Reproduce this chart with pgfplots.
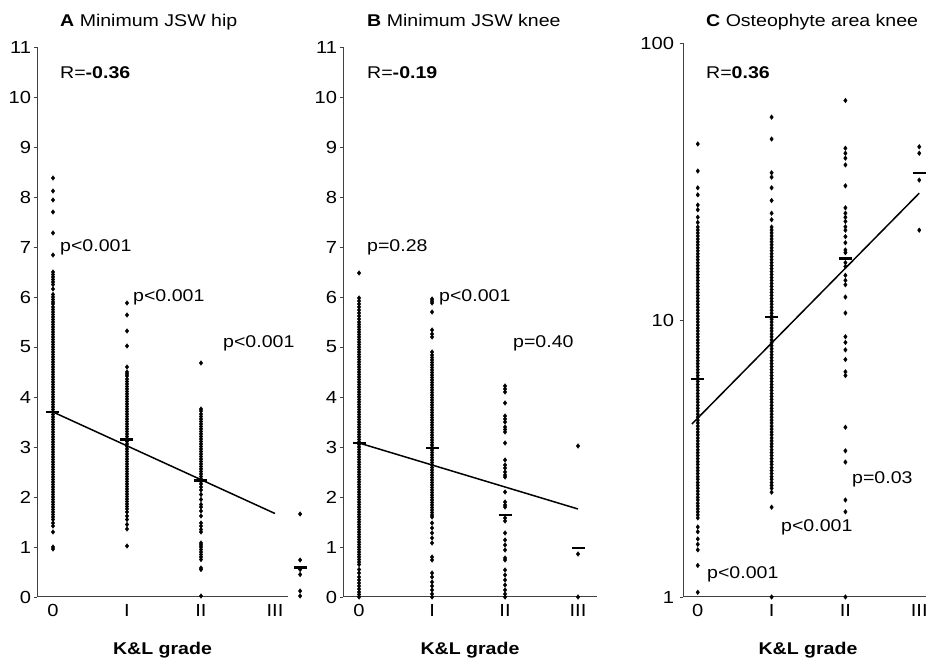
\documentclass[border=0pt]{standalone}
\usepackage{fontspec}
\setmainfont{Liberation Sans}[FakeStretch=1.15]
\usepackage{pgfplots}
\pgfplotsset{compat=1.18}
\usepackage{pgfplotstable}

% ---------- Minimum JSW hip (mm) by K&L grade ----------
\pgfplotstableread[row sep=\\]{
g v\\
0 8.38\\ 0 8.12\\ 0 7.94\\ 0 7.70\\ 0 7.28\\ 0 6.84\\ 0 6.50\\ 0 6.45\\ 0 6.40\\ 0 6.35\\ 0 6.30\\ 0 6.25\\ 0 6.16\\
0 6.05\\ 0 6.00\\ 0 5.95\\ 0 5.90\\ 0 5.86\\ 0 5.80\\ 0 5.75\\ 0 5.70\\ 0 5.65\\ 0 5.60\\ 0 5.55\\ 0 5.50\\ 0 5.45\\ 0 5.40\\
0 5.35\\ 0 5.30\\ 0 5.25\\ 0 5.20\\ 0 5.15\\ 0 5.10\\ 0 5.05\\ 0 5.00\\ 0 4.95\\ 0 4.90\\ 0 4.85\\ 0 4.80\\ 0 4.75\\ 0 4.70\\
0 4.65\\ 0 4.60\\ 0 4.55\\ 0 4.50\\ 0 4.45\\ 0 4.40\\ 0 4.35\\ 0 4.30\\ 0 4.25\\ 0 4.20\\ 0 4.15\\ 0 4.10\\ 0 4.05\\ 0 4.00\\
0 3.95\\ 0 3.90\\ 0 3.85\\ 0 3.80\\ 0 3.75\\ 0 3.70\\ 0 3.65\\ 0 3.60\\ 0 3.55\\ 0 3.50\\ 0 3.45\\ 0 3.40\\ 0 3.35\\ 0 3.30\\
0 3.25\\ 0 3.20\\ 0 3.15\\ 0 3.10\\ 0 3.05\\ 0 3.00\\ 0 2.95\\ 0 2.90\\ 0 2.85\\ 0 2.80\\ 0 2.75\\ 0 2.70\\ 0 2.65\\ 0 2.60\\
0 2.55\\ 0 2.50\\ 0 2.45\\ 0 2.40\\ 0 2.35\\ 0 2.30\\ 0 2.25\\ 0 2.20\\ 0 2.15\\ 0 2.10\\ 0 2.05\\ 0 2.00\\ 0 1.95\\ 0 1.90\\
0 1.85\\ 0 1.80\\ 0 1.75\\ 0 1.70\\ 0 1.65\\ 0 1.60\\ 0 1.55\\ 0 1.48\\ 0 1.42\\ 0 1.30\\ 0 1.00\\ 0 0.96\\
1 5.88\\ 1 5.64\\ 1 5.32\\ 1 5.02\\ 1 4.60\\ 1 4.50\\ 1 4.46\\ 1 4.42\\ 1 4.36\\ 1 4.31\\ 1 4.26\\ 1 4.21\\ 1 4.16\\ 1 4.11\\
1 4.06\\ 1 4.01\\ 1 3.96\\ 1 3.91\\ 1 3.86\\ 1 3.81\\ 1 3.76\\ 1 3.71\\ 1 3.66\\ 1 3.61\\ 1 3.56\\ 1 3.51\\ 1 3.46\\ 1 3.41\\
1 3.36\\ 1 3.31\\ 1 3.26\\ 1 3.21\\ 1 3.16\\ 1 3.11\\ 1 3.06\\ 1 3.01\\ 1 2.96\\ 1 2.91\\ 1 2.86\\ 1 2.81\\ 1 2.76\\ 1 2.71\\
1 2.66\\ 1 2.61\\ 1 2.56\\ 1 2.51\\ 1 2.46\\ 1 2.41\\ 1 2.36\\ 1 2.31\\ 1 2.26\\ 1 2.21\\ 1 2.16\\ 1 2.11\\ 1 2.06\\ 1 2.01\\
1 1.96\\ 1 1.91\\ 1 1.86\\ 1 1.81\\ 1 1.76\\ 1 1.70\\ 1 1.62\\ 1 1.55\\ 1 1.45\\ 1 1.36\\ 1 1.02\\
2 4.68\\ 2 3.76\\ 2 3.72\\ 2 3.66\\ 2 3.61\\ 2 3.56\\ 2 3.51\\ 2 3.46\\ 2 3.41\\ 2 3.36\\ 2 3.31\\ 2 3.26\\ 2 3.21\\ 2 3.16\\
2 3.11\\ 2 3.06\\ 2 3.01\\ 2 2.96\\ 2 2.91\\ 2 2.86\\ 2 2.81\\ 2 2.76\\ 2 2.71\\ 2 2.66\\ 2 2.61\\ 2 2.56\\ 2 2.51\\ 2 2.46\\
2 2.41\\ 2 2.36\\ 2 2.31\\ 2 2.26\\ 2 2.20\\ 2 2.14\\ 2 2.05\\ 2 1.95\\ 2 1.85\\ 2 1.80\\ 2 1.72\\ 2 1.62\\ 2 1.48\\ 2 1.42\\
2 1.35\\ 2 1.30\\ 2 1.08\\ 2 1.04\\ 2 1.00\\ 2 0.95\\ 2 0.90\\ 2 0.85\\ 2 0.80\\ 2 0.75\\ 2 0.58\\ 2 0.55\\ 2 0.02\\
3.34 1.66\\ 3.34 0.74\\ 3.34 0.55\\ 3.34 0.45\\ 3.34 0.12\\ 3.34 0.02\\
}\hipdata

% ---------- Minimum JSW knee (mm) by K&L grade ----------
\pgfplotstableread[row sep=\\]{
g v\\
0 6.48\\ 0 5.98\\ 0 5.92\\ 0 5.86\\ 0 5.80\\ 0 5.74\\ 0 5.68\\ 0 5.62\\ 0 5.56\\ 0 5.50\\
0 5.45\\ 0 5.40\\ 0 5.35\\ 0 5.30\\ 0 5.25\\ 0 5.20\\ 0 5.15\\ 0 5.10\\ 0 5.05\\ 0 5.00\\ 0 4.95\\ 0 4.90\\ 0 4.85\\ 0 4.80\\
0 4.75\\ 0 4.70\\ 0 4.65\\ 0 4.60\\ 0 4.55\\ 0 4.50\\ 0 4.45\\ 0 4.40\\ 0 4.35\\ 0 4.30\\ 0 4.25\\ 0 4.20\\ 0 4.15\\ 0 4.10\\
0 4.05\\ 0 4.00\\ 0 3.95\\ 0 3.90\\ 0 3.85\\ 0 3.80\\ 0 3.75\\ 0 3.70\\ 0 3.65\\ 0 3.60\\ 0 3.55\\ 0 3.50\\ 0 3.45\\ 0 3.40\\
0 3.35\\ 0 3.30\\ 0 3.25\\ 0 3.20\\ 0 3.15\\ 0 3.10\\ 0 3.05\\ 0 3.00\\ 0 2.95\\ 0 2.90\\ 0 2.85\\ 0 2.80\\ 0 2.75\\ 0 2.70\\
0 2.65\\ 0 2.60\\ 0 2.55\\ 0 2.50\\ 0 2.45\\ 0 2.40\\ 0 2.35\\ 0 2.30\\ 0 2.25\\ 0 2.20\\ 0 2.15\\ 0 2.10\\ 0 2.05\\ 0 2.00\\
0 1.95\\ 0 1.90\\ 0 1.85\\ 0 1.80\\ 0 1.75\\ 0 1.70\\ 0 1.65\\ 0 1.60\\ 0 1.55\\ 0 1.50\\ 0 1.45\\ 0 1.40\\ 0 1.35\\ 0 1.30\\
0 1.25\\ 0 1.20\\ 0 1.15\\ 0 1.10\\ 0 1.05\\ 0 1.00\\ 0 0.95\\ 0 0.90\\ 0 0.85\\ 0 0.80\\ 0 0.75\\ 0 0.70\\ 0 0.65\\ 0 0.55\\
0 0.48\\ 0 0.40\\ 0 0.34\\ 0 0.28\\ 0 0.22\\ 0 0.16\\ 0 0.10\\ 0 0.05\\ 0 0.00\\
1 5.96\\ 1 5.92\\ 1 5.88\\ 1 5.70\\ 1 5.34\\ 1 5.26\\ 1 5.20\\ 1 4.90\\ 1 4.84\\ 1 4.79\\ 1 4.74\\ 1 4.69\\ 1 4.64\\ 1 4.59\\
1 4.54\\ 1 4.49\\ 1 4.44\\ 1 4.39\\ 1 4.34\\ 1 4.29\\ 1 4.24\\ 1 4.19\\ 1 4.14\\ 1 4.09\\ 1 4.04\\ 1 3.99\\ 1 3.94\\ 1 3.89\\
1 3.84\\ 1 3.79\\ 1 3.74\\ 1 3.69\\ 1 3.64\\ 1 3.59\\ 1 3.54\\ 1 3.49\\ 1 3.44\\ 1 3.39\\ 1 3.34\\ 1 3.29\\ 1 3.24\\ 1 3.19\\
1 3.14\\ 1 3.09\\ 1 3.04\\ 1 2.99\\ 1 2.94\\ 1 2.89\\ 1 2.84\\ 1 2.79\\ 1 2.74\\ 1 2.69\\ 1 2.64\\ 1 2.59\\ 1 2.54\\ 1 2.49\\
1 2.44\\ 1 2.39\\ 1 2.34\\ 1 2.29\\ 1 2.24\\ 1 2.19\\ 1 2.14\\ 1 2.09\\ 1 2.04\\ 1 1.99\\ 1 1.94\\ 1 1.89\\ 1 1.84\\ 1 1.79\\
1 1.74\\ 1 1.69\\ 1 1.64\\ 1 1.60\\ 1 1.48\\ 1 1.38\\ 1 1.28\\ 1 1.18\\ 1 1.08\\ 1 0.80\\ 1 0.74\\ 1 0.48\\ 1 0.40\\ 1 0.30\\
1 0.22\\ 1 0.14\\ 1 0.06\\ 1 0.00\\
2 4.22\\ 2 4.16\\ 2 4.10\\ 2 3.88\\ 2 3.62\\ 2 3.56\\ 2 3.50\\ 2 3.40\\ 2 3.35\\ 2 3.30\\ 2 3.08\\ 2 2.74\\ 2 2.64\\ 2 2.58\\
2 2.50\\ 2 2.44\\ 2 2.40\\ 2 2.10\\ 2 1.90\\ 2 1.84\\ 2 1.80\\ 2 1.58\\ 2 1.52\\ 2 1.28\\ 2 1.14\\ 2 1.04\\ 2 0.94\\ 2 0.78\\
2 0.74\\ 2 0.54\\ 2 0.44\\ 2 0.34\\ 2 0.24\\ 2 0.14\\ 2 0.06\\ 2 0.00\\
3 3.02\\ 3 0.86\\ 3 0.00\\
}\kneedata

% ---------- Osteophyte area knee (mm^2) by K&L grade ----------
\pgfplotstableread[row sep=\\]{
g v\\
0 43.2\\ 0 34.5\\ 0 30.0\\ 0 28.3\\ 0 26.0\\ 0 25.0\\ 0 23.5\\ 0 22.5\\
0 21.66\\ 0 21.13\\ 0 20.62\\ 0 20.11\\ 0 19.62\\ 0 19.14\\ 0 18.68\\ 0 18.22\\ 0 17.78\\ 0 17.34\\ 0 16.92\\ 0 16.51\\
0 16.10\\ 0 15.71\\ 0 15.33\\ 0 14.95\\ 0 14.59\\ 0 14.23\\ 0 13.89\\ 0 13.55\\ 0 13.22\\ 0 12.89\\ 0 12.58\\ 0 12.27\\
0 11.97\\ 0 11.68\\ 0 11.40\\ 0 11.12\\ 0 10.85\\ 0 10.58\\ 0 10.32\\ 0 10.07\\ 0 9.83\\ 0 9.59\\ 0 9.35\\ 0 9.13\\
0 8.90\\ 0 8.69\\ 0 8.47\\ 0 8.27\\ 0 8.07\\ 0 7.87\\ 0 7.68\\ 0 7.49\\ 0 7.31\\ 0 7.13\\ 0 6.96\\ 0 6.79\\ 0 6.62\\
0 6.46\\ 0 6.30\\ 0 6.15\\ 0 6.00\\ 0 5.85\\ 0 5.71\\ 0 5.57\\ 0 5.43\\ 0 5.30\\ 0 5.17\\ 0 5.05\\ 0 4.92\\ 0 4.80\\
0 4.69\\ 0 4.57\\ 0 4.46\\ 0 4.35\\ 0 4.25\\ 0 4.14\\ 0 4.04\\ 0 3.94\\ 0 3.85\\ 0 3.75\\ 0 3.66\\ 0 3.57\\ 0 3.49\\
0 3.40\\ 0 3.32\\ 0 3.24\\ 0 3.16\\ 0 3.08\\ 0 3.01\\ 0 2.93\\ 0 2.86\\ 0 2.79\\ 0 2.72\\ 0 2.66\\ 0 2.59\\ 0 2.53\\
0 2.47\\ 0 2.41\\ 0 2.35\\ 0 2.29\\ 0 2.24\\ 0 2.18\\ 0 2.13\\ 0 2.08\\ 0 2.03\\ 0 1.98\\ 0 1.93\\
0 1.79\\ 0 1.72\\ 0 1.62\\ 0 1.55\\ 0 1.48\\ 0 1.30\\ 0 1.04\\
1 54.0\\ 1 45.0\\ 1 34.0\\ 1 32.8\\ 1 30.0\\ 1 27.0\\ 1 24.3\\ 1 23.0\\
1 21.66\\ 1 21.13\\ 1 20.62\\ 1 20.11\\ 1 19.62\\ 1 19.14\\ 1 18.68\\ 1 18.22\\ 1 17.78\\ 1 17.34\\ 1 16.92\\ 1 16.51\\
1 16.10\\ 1 15.71\\ 1 15.33\\ 1 14.95\\ 1 14.59\\ 1 14.23\\ 1 13.89\\ 1 13.55\\ 1 13.22\\ 1 12.89\\ 1 12.58\\ 1 12.27\\
1 11.97\\ 1 11.68\\ 1 11.40\\ 1 11.12\\ 1 10.85\\ 1 10.58\\ 1 10.32\\ 1 10.07\\ 1 9.83\\ 1 9.59\\ 1 9.35\\ 1 9.13\\
1 8.90\\ 1 8.69\\ 1 8.47\\ 1 8.27\\ 1 8.07\\ 1 7.87\\ 1 7.68\\ 1 7.49\\ 1 7.31\\ 1 7.13\\ 1 6.96\\ 1 6.79\\ 1 6.62\\
1 6.46\\ 1 6.30\\ 1 6.15\\ 1 6.00\\ 1 5.85\\ 1 5.71\\ 1 5.57\\ 1 5.43\\ 1 5.30\\ 1 5.17\\ 1 5.05\\ 1 4.92\\ 1 4.80\\
1 4.69\\ 1 4.57\\ 1 4.46\\ 1 4.35\\ 1 4.25\\ 1 4.14\\ 1 4.04\\ 1 3.94\\ 1 3.85\\ 1 3.75\\ 1 3.66\\ 1 3.57\\ 1 3.49\\
1 3.40\\ 1 3.32\\ 1 3.24\\ 1 3.16\\ 1 3.08\\ 1 3.01\\ 1 2.93\\ 1 2.86\\ 1 2.79\\ 1 2.72\\ 1 2.66\\ 1 2.59\\ 1 2.53\\
1 2.47\\ 1 2.39\\ 1 2.11\\ 1 1.00\\
2 62.0\\ 2 41.7\\ 2 40.0\\ 2 38.4\\ 2 36.3\\ 2 30.5\\ 2 25.4\\ 2 24.3\\ 2 23.5\\ 2 22.7\\ 2 21.7\\ 2 21.1\\ 2 20.0\\
2 19.0\\ 2 17.9\\ 2 17.5\\ 2 16.1\\ 2 15.6\\ 2 14.5\\ 2 13.9\\ 2 13.4\\ 2 12.1\\ 2 10.6\\ 2 8.7\\ 2 8.3\\ 2 7.8\\ 2 7.2\\
2 6.5\\ 2 6.3\\ 2 4.1\\ 2 3.37\\ 2 3.07\\ 2 2.24\\ 2 2.03\\ 2 1.00\\
3 42.2\\ 3 40.0\\ 3 32.0\\ 3 21.1\\
}\osteodata

% group means per K&L grade
\pgfplotstableread[row sep=\\]{
g v\\ 0 3.70\\ 1 3.15\\ 2 2.33\\ 3.34 0.59\\
}\hipmean
\pgfplotstableread[row sep=\\]{
g v\\ 0 3.08\\ 1 2.98\\ 2 1.64\\ 3 0.98\\
}\kneemean
\pgfplotstableread[row sep=\\]{
g v\\ 0 6.12\\ 1 10.25\\ 2 16.7\\ 3 34.0\\
}\osteomean

\pgfplotsset{
  klpanel/.style={
    scale only axis, width=251pt, height=550pt,
    axis x line=bottom, axis y line=left,
    axis line style={-, black!75, line width=1pt},
    xtick={0,1,2,3}, xticklabels={0,I,II,III},
    xtick style={draw=none},
    ytick style={black!75, line width=0.9pt},
    tick align=outside, major tick length=3.5pt,
    ticklabel style={font=\fontsize{17.5}{17.5}\selectfont},
    yticklabel style={xshift=1pt},
    /pgf/number format/assume math mode=true,
    clip=false,
  },
  pts/.style={only marks, mark=diamond*, mark size=2.3pt, black},
  meanmark/.style={only marks, mark=-, mark size=6.5pt, mark options={line width=2.4pt}, black},
  fitline/.style={black, line width=1.5pt, no marks},
}

\newcommand{\lbl}{\fontsize{17}{17}\selectfont}

\begin{document}
\begin{tikzpicture}
\useasboundingbox (0,0) rectangle (926pt,658pt);

% A
\begin{axis}[klpanel, at={(37pt,61pt)}, anchor=south west,
  xmin=-0.216, xmax=3.176, ymin=0, ymax=11, ytick={0,1,...,11}]
  \addplot[pts] table[x=g, y=v] {\hipdata};
  \addplot[fitline] coordinates {(0,3.70) (3,1.67)};
  \addplot[meanmark] table[x=g, y=v] {\hipmean};
\end{axis}

% B
\begin{axis}[klpanel, at={(343pt,61pt)}, anchor=south west, width=254pt,
  xmin=-0.22, xmax=3.26, ymin=0, ymax=11, ytick={0,1,...,11}]
  \addplot[pts] table[x=g, y=v] {\kneedata};
  \addplot[fitline] coordinates {(0,3.08) (3,1.76)};
  \addplot[meanmark] table[x=g, y=v] {\kneemean};
\end{axis}

% C
\begin{axis}[klpanel, at={(683pt,61pt)}, anchor=south west, height=554pt,
  xmin=-0.2, xmax=3.2, ymode=log, ymin=1, ymax=100,
  ytick={1,10,100}, yticklabels={1,10,100}, yminorticks=false,
  yticklabel style={xshift=-3pt}]
  \addplot[pts] table[x=g, y=v] {\osteodata};
  \addplot[fitline] coordinates {(-0.08,4.21) (3,28.7)};
  \addplot[meanmark] table[x=g, y=v] {\osteomean};
\end{axis}

% panel titles and correlation coefficients
\node[anchor=base west, inner sep=0] at (60pt,631pt) {\lbl\textbf{A} Minimum JSW hip};
\node[anchor=base west, inner sep=0] at (367pt,631pt) {\lbl\textbf{B} Minimum JSW knee};
\node[anchor=base west, inner sep=0] at (706pt,631pt) {\lbl\textbf{C} Osteophyte area knee};
\node[anchor=base west, inner sep=0] at (60pt,579pt) {\lbl R=\textbf{-0.36}};
\node[anchor=base west, inner sep=0] at (367pt,579pt) {\lbl R=\textbf{-0.19}};
\node[anchor=base west, inner sep=0] at (706pt,579pt) {\lbl R=\textbf{0.36}};

% p-values between neighbouring grades
\node[anchor=base west, inner sep=0] at (60pt,406pt) {\lbl p<0.001};
\node[anchor=base west, inner sep=0] at (133pt,356pt) {\lbl p<0.001};
\node[anchor=base west, inner sep=0] at (223pt,310pt) {\lbl p<0.001};
\node[anchor=base west, inner sep=0] at (367pt,406pt) {\lbl p=0.28};
\node[anchor=base west, inner sep=0] at (439pt,356pt) {\lbl p<0.001};
\node[anchor=base west, inner sep=0] at (513pt,310pt) {\lbl p=0.40};
\node[anchor=base west, inner sep=0] at (707pt,79pt) {\lbl p<0.001};
\node[anchor=base west, inner sep=0] at (781pt,126pt) {\lbl p<0.001};
\node[anchor=base west, inner sep=0] at (852pt,174pt) {\lbl p=0.03};

% x-axis titles
\node[anchor=base, inner sep=0] at (162.5pt,3pt) {\lbl\bfseries K\&L grade};
\node[anchor=base, inner sep=0] at (470pt,3pt) {\lbl\bfseries K\&L grade};
\node[anchor=base, inner sep=0] at (808pt,3pt) {\lbl\bfseries K\&L grade};
\end{tikzpicture}
\end{document}
